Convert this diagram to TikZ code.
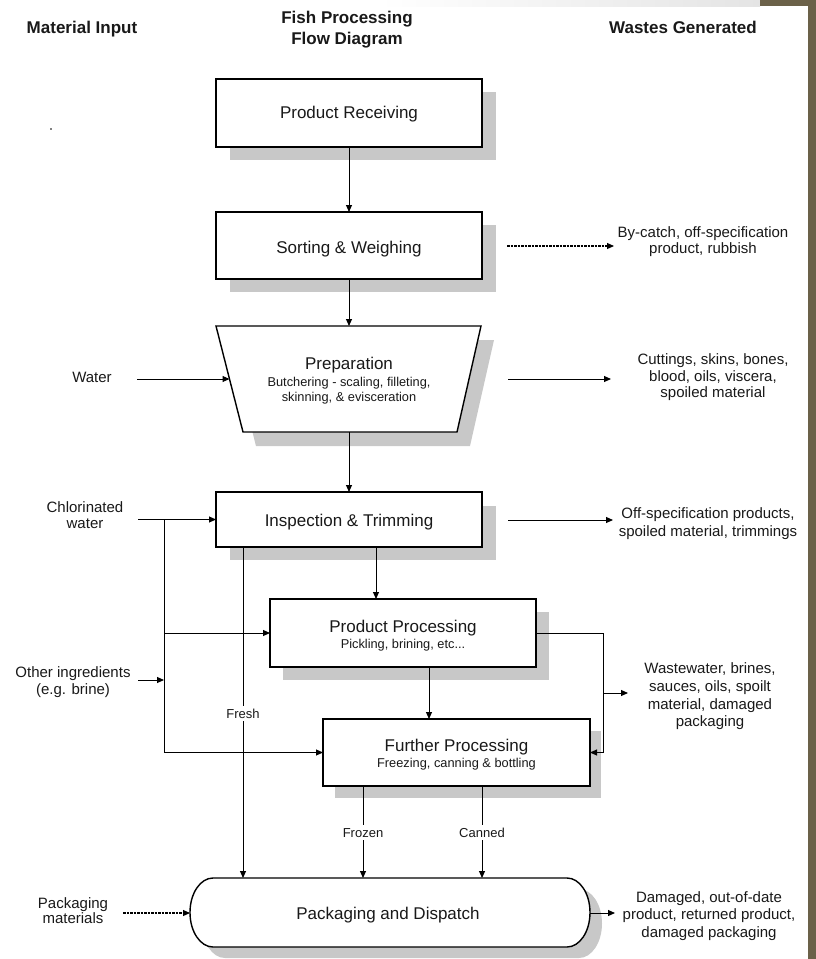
\documentclass[tikz,border=0pt]{standalone}
\usepackage{fontspec}
\setmainfont{Liberation Sans}
\usetikzlibrary{arrows.meta,calc}
\definecolor{shadowc}{RGB}{200,200,200}
\definecolor{framec}{RGB}{107,97,73}
\definecolor{bandc}{RGB}{228,228,228}
\definecolor{txt}{RGB}{25,25,25}
\begin{document}
\begin{tikzpicture}[x=1pt,y=-1pt,
  every node/.style={text=txt, inner sep=0pt, outer sep=0pt},
  box/.style={draw=black, line width=1.4pt, fill=white},
  shad/.style={fill=shadowc},
  hdr/.style={font=\bfseries\fontsize{17}{21}\selectfont, anchor=base},
  ttl/.style={font=\fontsize{17}{20}\selectfont, anchor=base},
  subt/.style={font=\fontsize{12.8}{15}\selectfont, anchor=base},
  lab/.style={font=\fontsize{15}{17}\selectfont, anchor=base},
  tag/.style={font=\fontsize{13}{15}\selectfont, anchor=base, fill=white, inner xsep=1pt, inner ysep=3pt},
  arr/.style={-{Triangle[length=7pt,width=6pt]}, line width=1pt, draw=black},
  dotarr/.style={arr, line width=1.1pt, dash pattern=on 2.6pt off 0.9pt},
  plain/.style={line width=1pt, draw=black}
]
\useasboundingbox (0,0) rectangle (816,959);
\fill[white] (0,0) rectangle (816,959);
% frame decorations
\shade[left color=white, right color=bandc] (380,0) rectangle (760,6);
\fill[framec] (760,0) rectangle (816,6);
\fill[framec] (808,0) rectangle (816,959);

% headers
\node[hdr] (hmat) at (82,33) {Material Input};
\node[hdr] (hfp1) at (347,23) {Fish Processing};
\node[hdr] (hfp2) at (347,44) {Flow Diagram};
\node[hdr] (hwas) at (683,33) {Wastes Generated};
\fill[black] (51,129) circle (0.8);

% shadows
\fill[shad] (230,92) rectangle (496,160);
\fill[shad] (230,225) rectangle (496,292);
\fill[shad] (229,340) -- (494,340) -- (470,446) -- (256,446) -- cycle;
\fill[shad] (230,506) rectangle (496,560);
\fill[shad] (283,612) rectangle (549,680);
\fill[shad] (335,731) rectangle (601,798);
\fill[shad] (225,889) -- (579,889) .. controls (591.7,889) and (602,904.4) .. (602,923.5) .. controls (602,942.6) and (591.7,958) .. (579,958) -- (225,958) .. controls (212.3,958) and (202,942.6) .. (202,923.5) .. controls (202,904.4) and (212.3,889) .. (225,889) -- cycle;

% boxes
\node[box, minimum width=266pt, minimum height=68pt] (recv) at (349,113) {};
\node[ttl] (recvT) at (349,118) {Product Receiving};

\node[box, minimum width=266pt, minimum height=67pt] (sort) at (349,245.5) {};
\node[ttl] (sortT) at (349,253) {Sorting \& Weighing};

\coordinate (pTL) at (216,326);
\coordinate (pTR) at (481,326);
\coordinate (pBR) at (457,432);
\coordinate (pBL) at (243,432);
\draw[box] (pTL) -- (pTR) -- (pBR) -- (pBL) -- cycle;
\coordinate (prepTop) at (349,326);
\coordinate (prepBot) at (349,432);
\coordinate (prepL) at (229.5,379);
\node[ttl] (prepT) at (349,369) {Preparation};
\node[subt] (prepS1) at (349,386) {Butchering - scaling, filleting,};
\node[subt] (prepS2) at (349,401) {skinning, \& evisceration};

\node[box, minimum width=266pt, minimum height=55pt] (insp) at (349,519.5) {};
\node[ttl] (inspT) at (349,526) {Inspection \& Trimming};

\node[box, minimum width=266pt, minimum height=68pt] (pp) at (403,633) {};
\node[ttl] (ppT) at (403,632) {Product Processing};
\node[subt] (ppS) at (403,648) {Pickling, brining, etc...};

\node[box, minimum width=267pt, minimum height=67pt] (fp) at (456.5,752.5) {};
\node[ttl] (fpT) at (456.5,751) {Further Processing};
\node[subt] (fpS) at (456.5,767) {Freezing, canning \& bottling};

\draw[box] (213,878) -- (567,878) .. controls (579.7,878) and (590,893.4) .. (590,912.5) .. controls (590,931.6) and (579.7,947) .. (567,947) -- (213,947) .. controls (200.3,947) and (190,931.6) .. (190,912.5) .. controls (190,893.4) and (200.3,878) .. (213,878) -- cycle;
\coordinate (packN) at (390,878);
\coordinate (packW) at (190,913);
\coordinate (packE) at (590,913);
\node[ttl] (packT) at (388,919) {Packaging and Dispatch};

% input labels
\node[lab] (water) at (92,382) {Water};
\node[lab] (chl1) at (85,512) {Chlorinated};
\node[lab] (chl2) at (85,528) {water};
\node[lab] (oth1) at (73,677) {Other ingredients};
\node[lab] (oth2) at (73,694) {(e.g. brine)};
\node[lab] (pm1) at (73,908) {Packaging};
\node[lab] (pm2) at (73,923) {materials};

% waste labels
\node[lab] (bc1) at (703,237) {By-catch, off-specification};
\node[lab] (bc2) at (703,253) {product, rubbish};
\node[lab] (cu1) at (713,364) {Cuttings, skins, bones,};
\node[lab] (cu2) at (713,381) {blood, oils, viscera,};
\node[lab] (cu3) at (713,397) {spoiled material};
\node[lab] (os1) at (708,518) {Off-specification products,};
\node[lab] (os2) at (708,536) {spoiled material, trimmings};
\node[lab] (ww1) at (710,673) {Wastewater, brines,};
\node[lab] (ww2) at (710,691) {sauces, oils, spoilt};
\node[lab] (ww3) at (710,709) {material, damaged};
\node[lab] (ww4) at (710,726) {packaging};
\node[lab] (dm1) at (709,902) {Damaged, out-of-date};
\node[lab] (dm2) at (709,919) {product, returned product,};
\node[lab] (dm3) at (709,937) {damaged packaging};

% main flow
\draw[arr] (recv.south) -- (sort.north);
\draw[arr] (sort.south) -- (prepTop);
\draw[arr] (prepBot) -- (insp.north);
\coordinate (ip0) at (376,547);
\draw[arr] (ip0) -- (ip0 |- pp.north);
\coordinate (pf0) at (429,667);
\draw[arr] (pf0) -- (pf0 |- fp.north);

% waste arrows
\coordinate (sortOut) at (507,246);
\coordinate (sortEnd) at (614,246);
\draw[dotarr] (sortOut) -- (sortEnd);
\coordinate (prepOut) at (508,379);
\coordinate (prepEnd) at (611,379);
\draw[arr] (prepOut) -- (prepEnd);
\coordinate (inspOut) at (508,520);
\coordinate (inspEnd) at (613,520);
\draw[arr] (inspOut) -- (inspEnd);
\coordinate (wx) at (603,633);
\draw[arr] (pp.east) -- (wx) -- (wx |- fp.east) -- (fp.east);
\coordinate (wb) at (603,693);
\coordinate (wbEnd) at (628,693);
\draw[arr] (wb) -- (wbEnd);
\coordinate (pkEnd) at (615,913);
\draw[arr] (packE) -- (pkEnd);

% inputs
\coordinate (waterStart) at (137,379);
\draw[arr] (waterStart) -- (prepL);
\coordinate (chlStart) at (138,519.5);
\draw[arr] (chlStart) -- (insp.west);
\coordinate (busTop) at (164,519.5);
\draw[plain] (busTop) -- (busTop |- fp.west);
\draw[arr] (busTop |- pp.west) -- (pp.west);
\draw[arr] (busTop |- fp.west) -- (fp.west);
\coordinate (othStart) at (138,680);
\draw[arr] (othStart) -- (othStart -| busTop);
\coordinate (pmStart) at (123,913);
\draw[dotarr] (pmStart) -- (packW);

% product routes to packaging
\coordinate (fr0) at (243,547);
\draw[arr] (fr0) -- (fr0 |- packN);
\node[tag] (fresh) at (243,718) {Fresh};
\coordinate (fz0) at (363,786);
\draw[arr] (fz0) -- (fz0 |- packN);
\node[tag] (frozen) at (363,837) {Frozen};
\coordinate (cn0) at (482,786);
\draw[arr] (cn0) -- (cn0 |- packN);
\node[tag] (canned) at (482,837) {Canned};
\end{tikzpicture}
\end{document}
